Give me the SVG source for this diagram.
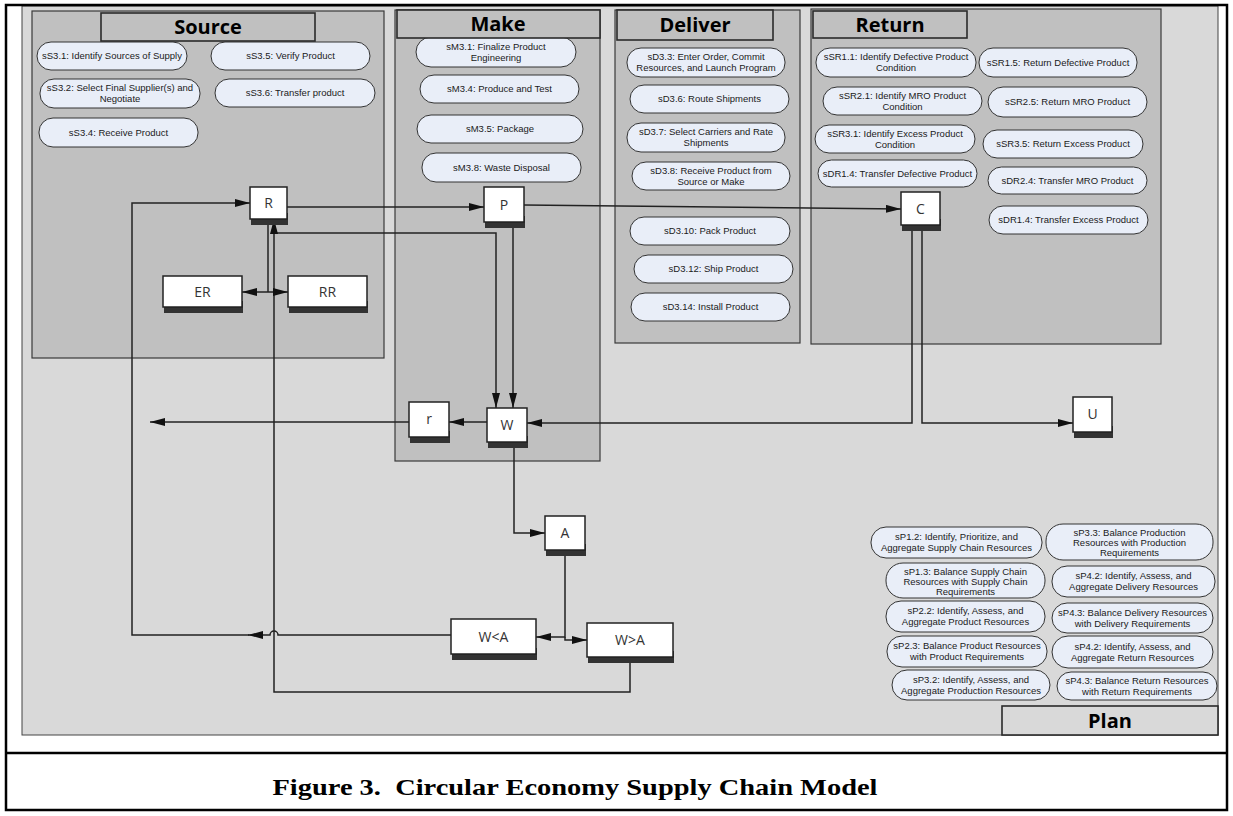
<svg xmlns="http://www.w3.org/2000/svg" width="1233" height="816" viewBox="0 0 1233 816">
<style>
.panel{fill:#c0c0c0;stroke:#3a3a3a;stroke-width:1.2}
.title{fill:#c0c0c0;stroke:#2a2a2a;stroke-width:1.6}
.tt{font-family:"Open Sans","DejaVu Sans",sans-serif;font-weight:bold;font-size:20px;fill:#000;text-anchor:middle}
.pill{fill:#e9eef8;stroke:#333;stroke-width:1}
.pt{font-family:"Liberation Sans",Arial,sans-serif;font-size:9.5px;fill:#1a1a1a;text-anchor:middle}
.box{fill:#fff;stroke:#222;stroke-width:1.5}
.sh{fill:#333}
.bt{font-family:"Open Sans","DejaVu Sans",sans-serif;font-size:14px;fill:#333;text-anchor:middle}
.ln{fill:none;stroke:#222;stroke-width:1.5}
.ar{marker-end:url(#ah)}
</style>
<defs>
<marker id="ah" viewBox="0 0 15 8" refX="15" refY="4" markerWidth="15" markerHeight="8" markerUnits="userSpaceOnUse" orient="auto"><path d="M0,0 L15,4 L0,8 z" fill="#111"/></marker>
</defs>
<rect x="0" y="0" width="1233" height="816" fill="#fff"/>
<rect x="22" y="6" width="1196" height="729" fill="#d9d9d9" stroke="#444" stroke-width="1"/>
<rect x="6" y="5" width="1221" height="805" fill="none" stroke="#000" stroke-width="2.5"/>
<line x1="6" y1="753" x2="1227" y2="753" stroke="#000" stroke-width="2.5"/>
<text x="575" y="795" font-family="'Liberation Serif','Times New Roman',serif" font-weight="bold" font-size="24" text-anchor="middle" textLength="605" lengthAdjust="spacingAndGlyphs">Figure 3.&#160; Circular Economy Supply Chain Model</text>

<g id="panel-source">
<rect class="panel" x="32" y="11" width="352" height="347"/>
</g>
<g id="panel-make">
<rect class="panel" x="395" y="10" width="205" height="451"/>
</g>
<g id="panel-deliver">
<rect class="panel" x="615" y="10" width="185" height="333"/>
</g>
<g id="panel-return">
<rect class="panel" x="811" y="9" width="350" height="335"/>
</g>

<g id="source-pills">
<g id="sS3.1"><rect class="pill" x="37" y="42" width="150" height="28" rx="14"/><text class="pt" x="112" y="59">sS3.1: Identify Sources of Supply</text></g>
<g id="sS3.5"><rect class="pill" x="211" y="42" width="159" height="28" rx="14"/><text class="pt" x="290.5" y="59">sS3.5: Verify Product</text></g>
<g id="sS3.2"><rect class="pill" x="40" y="79" width="160" height="29" rx="14"/><text class="pt" x="120" y="91">sS3.2: Select Final Supplier(s) and</text><text class="pt" x="120" y="102">Negotiate</text></g>
<g id="sS3.6"><rect class="pill" x="215" y="79" width="160" height="28" rx="14"/><text class="pt" x="295" y="96">sS3.6: Transfer product</text></g>
<g id="sS3.4"><rect class="pill" x="39" y="118" width="159" height="29" rx="14"/><text class="pt" x="118.5" y="135.5">sS3.4: Receive Product</text></g>
</g>
<g id="make-pills">
<g id="sM3.1"><rect class="pill" x="416" y="37" width="160" height="30" rx="15"/><text class="pt" x="496" y="49.5">sM3.1: Finalize Product</text><text class="pt" x="496" y="60.5">Engineering</text></g>
<g id="sM3.4"><rect class="pill" x="420" y="75" width="159" height="28" rx="14"/><text class="pt" x="499.5" y="92">sM3.4: Produce and Test</text></g>
<g id="sM3.5"><rect class="pill" x="417" y="115" width="166" height="28" rx="14"/><text class="pt" x="500" y="132">sM3.5: Package</text></g>
<g id="sM3.8"><rect class="pill" x="422" y="153" width="159" height="29" rx="14"/><text class="pt" x="501.5" y="170.5">sM3.8: Waste Disposal</text></g>
</g>
<g id="deliver-pills">
<g id="sD3.3"><rect class="pill" x="627" y="48" width="158" height="29" rx="14"/><text class="pt" x="706" y="60">sD3.3: Enter Order, Commit</text><text class="pt" x="706" y="71">Resources, and Launch Program</text></g>
<g id="sD3.6"><rect class="pill" x="630" y="85" width="159" height="28" rx="14"/><text class="pt" x="709.5" y="102">sD3.6: Route Shipments</text></g>
<g id="sD3.7"><rect class="pill" x="627" y="123" width="158" height="29" rx="14"/><text class="pt" x="706" y="135">sD3.7: Select Carriers and Rate</text><text class="pt" x="706" y="146">Shipments</text></g>
<g id="sD3.8"><rect class="pill" x="632" y="162" width="158" height="28" rx="14"/><text class="pt" x="711" y="173.5">sD3.8: Receive Product from</text><text class="pt" x="711" y="184.5">Source or Make</text></g>
<g id="sD3.10"><rect class="pill" x="630" y="217" width="160" height="28" rx="14"/><text class="pt" x="710" y="234">sD3.10: Pack Product</text></g>
<g id="sD3.12"><rect class="pill" x="634" y="255" width="159" height="28" rx="14"/><text class="pt" x="713.5" y="272">sD3.12: Ship Product</text></g>
<g id="sD3.14"><rect class="pill" x="631" y="293" width="159" height="28" rx="14"/><text class="pt" x="710.5" y="310">sD3.14: Install Product</text></g>
</g>
<g id="return-pills">
<g id="sSR1.1"><rect class="pill" x="816" y="48" width="160" height="29" rx="14"/><text class="pt" x="896" y="60">sSR1.1: Identify Defective Product</text><text class="pt" x="896" y="71">Condition</text></g>
<g id="sSR1.5"><rect class="pill" x="979" y="48" width="158" height="29" rx="14"/><text class="pt" x="1058" y="65.5">sSR1.5: Return Defective Product</text></g>
<g id="sSR2.1"><rect class="pill" x="823" y="87" width="159" height="28" rx="14"/><text class="pt" x="902.5" y="98.5">sSR2.1: Identify MRO Product</text><text class="pt" x="902.5" y="109.5">Condition</text></g>
<g id="sSR2.5"><rect class="pill" x="988" y="87" width="159" height="30" rx="15"/><text class="pt" x="1067.5" y="105">sSR2.5: Return MRO Product</text></g>
<g id="sSR3.1"><rect class="pill" x="815" y="125" width="160" height="28" rx="14"/><text class="pt" x="895" y="136.5">sSR3.1: Identify Excess Product</text><text class="pt" x="895" y="147.5">Condition</text></g>
<g id="sSR3.5"><rect class="pill" x="983" y="130" width="160" height="28" rx="14"/><text class="pt" x="1063" y="147">sSR3.5: Return Excess Product</text></g>
<g id="sDR1.4-def"><rect class="pill" x="818" y="160" width="159" height="27" rx="13.5"/><text class="pt" x="897.5" y="176.5">sDR1.4: Transfer Defective Product</text></g>
<g id="sDR2.4"><rect class="pill" x="988" y="167" width="159" height="27" rx="13.5"/><text class="pt" x="1067.5" y="183.5">sDR2.4: Transfer MRO Product</text></g>
<g id="sDR1.4-exc"><rect class="pill" x="989" y="206" width="159" height="28" rx="14"/><text class="pt" x="1068.5" y="223">sDR1.4: Transfer Excess Product</text></g>
</g>
<g id="plan-pills">
<g id="sP1.2"><rect class="pill" x="871" y="527" width="171" height="31" rx="15"/><text class="pt" x="956.5" y="540">sP1.2: Identify, Prioritize, and</text><text class="pt" x="956.5" y="551">Aggregate Supply Chain Resources</text></g>
<g id="sP3.3"><rect class="pill" x="1046" y="524" width="167" height="36" rx="17"/><text class="pt" x="1129.5" y="536">sP3.3: Balance Production</text><text class="pt" x="1129.5" y="546">Resources with Production</text><text class="pt" x="1129.5" y="556">Requirements</text></g>
<g id="sP1.3"><rect class="pill" x="886" y="563" width="159" height="35" rx="17"/><text class="pt" x="965.5" y="574.5">sP1.3: Balance Supply Chain</text><text class="pt" x="965.5" y="584.5">Resources with Supply Chain</text><text class="pt" x="965.5" y="594.5">Requirements</text></g>
<g id="sP4.2-del"><rect class="pill" x="1052" y="566" width="163" height="31" rx="15"/><text class="pt" x="1133.5" y="579">sP4.2: Identify, Assess, and</text><text class="pt" x="1133.5" y="590">Aggregate Delivery Resources</text></g>
<g id="sP2.2"><rect class="pill" x="886" y="601" width="159" height="31" rx="15"/><text class="pt" x="965.5" y="614">sP2.2: Identify, Assess, and</text><text class="pt" x="965.5" y="625">Aggregate Product Resources</text></g>
<g id="sP4.3-del"><rect class="pill" x="1052" y="603" width="161" height="30" rx="15"/><text class="pt" x="1132.5" y="615.5">sP4.3: Balance Delivery Resources</text><text class="pt" x="1132.5" y="626.5">with Delivery Requirements</text></g>
<g id="sP2.3"><rect class="pill" x="887" y="636" width="160" height="31" rx="15"/><text class="pt" x="967" y="649">sP2.3: Balance Product Resources</text><text class="pt" x="967" y="660">with Product Requirements</text></g>
<g id="sP4.2-ret"><rect class="pill" x="1052" y="636" width="161" height="32" rx="16"/><text class="pt" x="1132.5" y="649.5">sP4.2: Identify, Assess, and</text><text class="pt" x="1132.5" y="660.5">Aggregate Return Resources</text></g>
<g id="sP3.2"><rect class="pill" x="892" y="670" width="158" height="30" rx="15"/><text class="pt" x="971" y="682.5">sP3.2: Identify, Assess, and</text><text class="pt" x="971" y="693.5">Aggregate Production Resources</text></g>
<g id="sP4.3-ret"><rect class="pill" x="1057" y="672" width="160" height="28" rx="14"/><text class="pt" x="1137" y="683.5">sP4.3: Balance Return Resources</text><text class="pt" x="1137" y="694.5">with Return Requirements</text></g>
</g>

<g id="titles">
<g id="title-source"><rect class="title" x="101" y="13" width="214" height="28"/><text class="tt" x="208" y="34">Source</text></g>
<g id="title-make"><rect class="title" x="397" y="10" width="203" height="28"/><text class="tt" x="498" y="31">Make</text></g>
<g id="title-deliver"><rect class="title" x="617" y="10" width="156" height="30"/><text class="tt" x="695" y="32">Deliver</text></g>
<g id="title-return"><rect class="title" x="813" y="11" width="154" height="27"/><text class="tt" x="890" y="31.5">Return</text></g>
<g id="title-plan"><rect x="1002" y="706" width="216" height="29" fill="#d9d9d9" stroke="#2a2a2a" stroke-width="1.6"/><text class="tt" x="1110" y="727.5">Plan</text></g>
</g>

<g id="connectors">
<path class="ln ar" d="M451,635 L278,635 A4,4 0 0 0 270,635 L248,635"/>
<path class="ln ar" d="M249,635 L132,635 L132,203 L250,203"/>
<path class="ln ar" d="M287,207 L484,207"/>
<path class="ln ar" d="M524,205 L901,209"/>
<path class="ln ar" d="M513,222 L513,408"/>
<path class="ln ar" d="M274,233 L496,233 L496,408"/>
<path class="ln ar" d="M630,657 L630,692 L274,692 L274,219"/>
<path class="ln" d="M268,219 L268,292"/>
<path class="ln ar" d="M268,292 L242,292"/>
<path class="ln ar" d="M268,292 L288,292"/>
<path class="ln ar" d="M912,225 L912,423 L527,423"/>
<path class="ln ar" d="M922,225 L922,423 L1073,423"/>
<path class="ln ar" d="M487,422 L449,422"/>
<path class="ln ar" d="M409,422 L150,422"/>
<path class="ln ar" d="M514,442 L514,533 L545,533"/>
<path class="ln ar" d="M565,550 L565,637 L536,637"/>
<path class="ln ar" d="M565,637 L565,640 L587,640"/>
</g>

<g id="node-R"><rect class="sh" x="251" y="213" width="37" height="12"/><rect class="box" x="250" y="187" width="37" height="32"/><text class="bt" x="268.5" y="208">R</text></g>
<g id="node-P"><rect class="sh" x="485" y="216" width="40" height="12"/><rect class="box" x="484" y="187" width="40" height="35"/><text class="bt" x="504" y="209.5">P</text></g>
<g id="node-C"><rect class="sh" x="902" y="219" width="39" height="12"/><rect class="box" x="901" y="192" width="39" height="33"/><text class="bt" x="920.5" y="213.5">C</text></g>
<g id="node-ER"><rect class="sh" x="164" y="301" width="79" height="12"/><rect class="box" x="163" y="276" width="79" height="31"/><text class="bt" x="202.5" y="296.5">ER</text></g>
<g id="node-RR"><rect class="sh" x="289" y="301" width="79" height="12"/><rect class="box" x="288" y="276" width="79" height="31"/><text class="bt" x="327.5" y="296.5">RR</text></g>
<g id="node-r"><rect class="sh" x="410" y="431" width="40" height="12"/><rect class="box" x="409" y="402" width="40" height="35"/><text class="bt" x="429" y="424">r</text></g>
<g id="node-W"><rect class="sh" x="488" y="436" width="40" height="12"/><rect class="box" x="487" y="408" width="40" height="34"/><text class="bt" x="507" y="430">W</text></g>
<g id="node-U"><rect class="sh" x="1074" y="426" width="39" height="12"/><rect class="box" x="1073" y="397" width="39" height="35"/><text class="bt" x="1092.5" y="419">U</text></g>
<g id="node-A"><rect class="sh" x="546" y="544" width="40" height="12"/><rect class="box" x="545" y="516" width="40" height="34"/><text class="bt" x="565" y="538">A</text></g>
<g id="node-WltA"><rect class="sh" x="452" y="648" width="85" height="12"/><rect class="box" x="451" y="619" width="85" height="35"/><text class="bt" x="493.5" y="641.5">W&lt;A</text></g>
<g id="node-WgtA"><rect class="sh" x="588" y="651" width="86" height="12"/><rect class="box" x="587" y="623" width="86" height="34"/><text class="bt" x="630" y="645">W&gt;A</text></g>
</svg>
